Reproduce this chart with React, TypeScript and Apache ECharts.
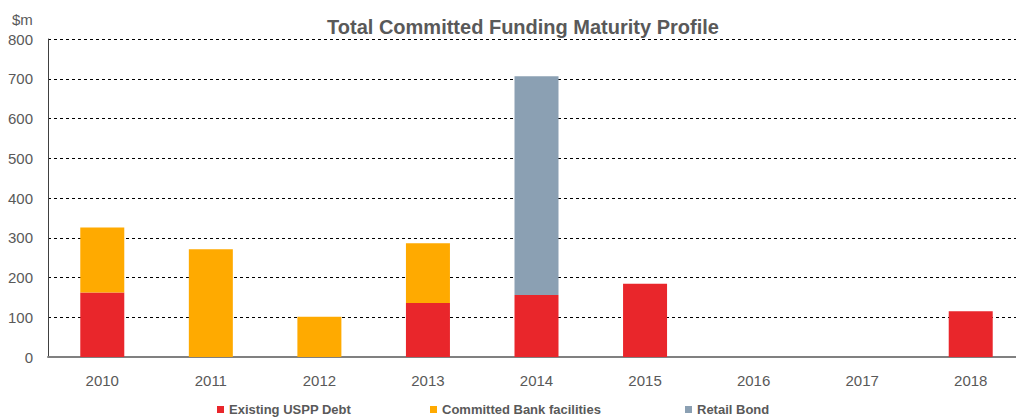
import React, { useEffect, useRef } from "react";
import * as echarts from "echarts";

const categories = ["2010", "2011", "2012", "2013", "2014", "2015", "2016", "2017", "2018"];
const usppDebt = [162, 0, 0, 136, 156, 184, 0, 0, 115];
const bankFacilities = [164, 271, 101, 150, 0, 0, 0, 0, 0];
const retailBond = [0, 0, 0, 0, 550, 0, 0, 0, 0];
const yTicks = [0, 100, 200, 300, 400, 500, 600, 700, 800];
const seriesNames = ["Existing USPP Debt", "Committed Bank facilities", "Retail Bond"];
const seriesColors = ["#E9262B", "#FFAA00", "#8BA0B3"];

const FONT = "'Liberation Sans', Arial, sans-serif";
const TXT = "#595959";

export default function App() {
  const ref = useRef<HTMLDivElement>(null);
  useEffect(() => {
    document.body.style.margin = "0";
    if (!ref.current) return;
    const chart = echarts.init(ref.current, undefined, { renderer: "svg" });
    const nz = (arr: number[]) => arr.map((v) => (v === 0 ? null : v));
    const legendLefts = [217, 430, 685];
    chart.setOption({
      animation: false,
      backgroundColor: "#ffffff",
      textStyle: { fontFamily: FONT },
      title: {
        text: "Total Committed Funding Maturity Profile",
        left: 518,
        textAlign: "center",
        top: 12,
        textStyle: { fontFamily: FONT, fontSize: 20, fontWeight: "bold", color: TXT },
      },
      graphic: [
        {
          type: "text",
          left: 12,
          top: 12,
          style: { text: "$m", fontFamily: FONT, fontSize: 15, fill: TXT },
        },
      ],
      legend: seriesNames.map((n, i) => ({
        left: legendLefts[i],
        top: 403,
        padding: 0,
        itemWidth: 7,
        itemHeight: 7,
        itemGap: 0,
        icon: "rect",
        textStyle: { fontFamily: FONT, fontSize: 13, fontWeight: "bold", color: TXT },
        data: [n],
      })),
      grid: { left: 48, top: 39, width: 977, height: 318, containLabel: false },
      xAxis: {
        type: "category",
        data: categories,
        axisLine: { lineStyle: { color: "#808080", width: 2 } },
        axisTick: { show: false },
        axisLabel: { fontFamily: FONT, fontSize: 15, color: TXT, margin: 16 },
      },
      yAxis: {
        type: "value",
        min: yTicks[0],
        max: yTicks[yTicks.length - 1],
        interval: 100,
        axisLine: { show: true, lineStyle: { color: "#404040", width: 1 } },
        axisTick: { show: false },
        axisLabel: { fontFamily: FONT, fontSize: 15, color: TXT, margin: 15 },
        splitLine: { lineStyle: { color: "#000000", type: [3, 3], width: 1 } },
      },
      series: [usppDebt, bankFacilities, retailBond].map((d, i) => ({
        name: seriesNames[i],
        type: "bar",
        stack: "total",
        barWidth: 44,
        data: nz(d),
        itemStyle: { color: seriesColors[i] },
      })),
    });
    return () => chart.dispose();
  }, []);
  return (
    <div style={{ width: 1016, height: 418, overflow: "hidden", position: "relative" }}>
      <div ref={ref} style={{ width: 1030, height: 418 }} />
    </div>
  );
}
